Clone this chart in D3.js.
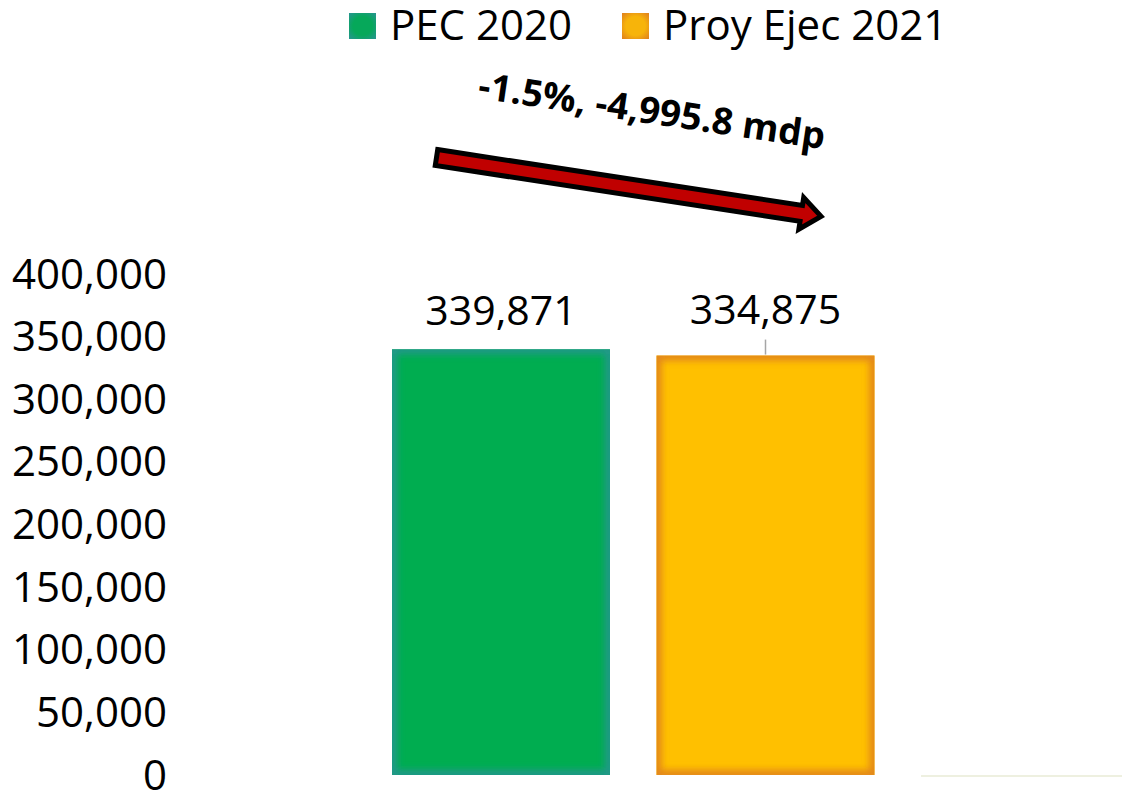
<!DOCTYPE html>
<html>
<head>
<meta charset="utf-8">
<script src="https://cdn.jsdelivr.net/npm/d3@7"></script>
<style>
  body { margin: 0; background: #fff; }
  svg { display: block; font-family: "Open Sans", "Liberation Sans", sans-serif; }
</style>
</head>
<body>
<div id="chart"></div>
<script>
// data
const categories = ["PEC 2020", "Proy Ejec 2021"];
const values = [339871, 334875];
const yTicks = [0, 50000, 100000, 150000, 200000, 250000, 300000, 350000, 400000];
const changeLabel = "-1.5%, -4,995.8 mdp";

const width = 1122;
const height = 791;

const svg = d3
  .select("#chart")
  .append("svg")
  .attr("width", width)
  .attr("height", height);

const defs = svg.append("defs");

// fills: main colour + edge colour for the inner glow
const fills = [
  { main: "#00AD50", edge: "#23978A", center: "#06A85A" },
  { main: "#FFC000", edge: "#E2861C", center: "#F7B40A" },
];

// legend square gradients
fills.forEach((f, i) => {
  const g = defs
    .append("radialGradient")
    .attr("id", "leg" + i)
    .attr("cx", "50%")
    .attr("cy", "50%")
    .attr("r", "65%");
  g.append("stop").attr("offset", "0%").attr("stop-color", f.center);
  g.append("stop").attr("offset", "55%").attr("stop-color", f.center);
  g.append("stop").attr("offset", "100%").attr("stop-color", f.edge);
});

defs
  .append("filter")
  .attr("id", "soft")
  .attr("x", "-10%")
  .attr("y", "-10%")
  .attr("width", "120%")
  .attr("height", "120%")
  .append("feGaussianBlur")
  .attr("stdDeviation", 3.5);

// scales
const slots = [...categories, ""]; // third slot is empty
const x = d3
  .scaleBand()
  .domain(slots)
  .range([392, 1139])
  .paddingInner(0.176)
  .paddingOuter(0);

const y = d3.scaleLinear().domain([0, 400000]).range([775, 274]);

// y axis (labels only)
const yAxis = svg
  .append("g")
  .attr("transform", "translate(167,0)")
  .call(
    d3
      .axisLeft(y)
      .tickValues(yTicks)
      .tickSize(0)
      .tickPadding(0)
      .tickFormat(d3.format(","))
  );
yAxis.select(".domain").remove();
yAxis
  .selectAll("text")
  .attr("font-family", "Open Sans")
  .attr("font-size", 42)
  .attr("fill", "#000")
  .attr("dy", null)
  .attr("y", 14);

// faint axis segment under the empty slot
svg
  .append("line")
  .attr("x1", x(""))
  .attr("x2", x("") + x.bandwidth())
  .attr("y1", y(0) + 1)
  .attr("y2", y(0) + 1)
  .attr("stroke", "#EEF0E0")
  .attr("stroke-width", 2);

// bars
const bars = svg
  .append("g")
  .selectAll("g")
  .data(values)
  .join("g");

bars.each(function (d, i) {
  const g = d3.select(this);
  const bx = x(categories[i]);
  const by = y(d);
  const bw = x.bandwidth();
  const bh = y(0) - y(d);

  defs
    .append("clipPath")
    .attr("id", "clip" + i)
    .append("rect")
    .attr("x", bx)
    .attr("y", by)
    .attr("width", bw)
    .attr("height", bh);

  g.append("rect")
    .attr("x", bx)
    .attr("y", by)
    .attr("width", bw)
    .attr("height", bh)
    .attr("fill", fills[i].main);

  // soft inner glow along the edges
  g.append("g")
    .attr("clip-path", `url(#clip${i})`)
    .append("rect")
    .attr("x", bx)
    .attr("y", by)
    .attr("width", bw)
    .attr("height", bh)
    .attr("fill", "none")
    .attr("stroke", fills[i].edge)
    .attr("stroke-width", 10)
    .attr("filter", "url(#soft)");
});

// value labels
const labelLift = [24, 32];
svg
  .append("g")
  .selectAll("text")
  .data(values)
  .join("text")
  .attr("x", (d, i) => x(categories[i]) + x.bandwidth() / 2)
  .attr("y", (d, i) => y(d) - labelLift[i])
  .attr("text-anchor", "middle")
  .attr("font-size", 41)
  .attr("fill", "#000")
  .text((d) => d3.format(",")(d));

// leader line for the moved label
svg
  .append("line")
  .attr("x1", x(categories[1]) + x.bandwidth() / 2)
  .attr("x2", x(categories[1]) + x.bandwidth() / 2)
  .attr("y1", y(values[1]) - 16)
  .attr("y2", y(values[1]) - 1)
  .attr("stroke", "#A6A6A6")
  .attr("stroke-width", 1.5);

// legend
const legendX = [349, 622];
const legend = svg
  .append("g")
  .selectAll("g")
  .data(categories)
  .join("g")
  .attr("transform", (d, i) => `translate(${legendX[i]},13)`);

legend
  .append("rect")
  .attr("width", 27)
  .attr("height", 26)
  .attr("fill", (d, i) => `url(#leg${i})`);

legend
  .append("text")
  .attr("x", 41)
  .attr("y", 27)
  .attr("font-size", 42)
  .attr("fill", "#000")
  .text((d) => d);

// change annotation: arrow + rotated text
const arrowStart = [436.5, 157.5];
const arrowEnd = [825, 217];
const dx = arrowEnd[0] - arrowStart[0];
const dy = arrowEnd[1] - arrowStart[1];
const len = Math.sqrt(dx * dx + dy * dy);
const angle = (Math.atan2(dy, dx) * 180) / Math.PI;

const arrowPath = d3.path();
arrowPath.moveTo(0, -8);
arrowPath.lineTo(len - 24, -8);
arrowPath.lineTo(len - 24, -16);
arrowPath.lineTo(len - 4, 0);
arrowPath.lineTo(len - 24, 16);
arrowPath.lineTo(len - 24, 8);
arrowPath.lineTo(0, 8);
arrowPath.closePath();

svg
  .append("path")
  .attr("d", arrowPath.toString())
  .attr("transform", `translate(${arrowStart[0]},${arrowStart[1]}) rotate(${angle})`)
  .attr("fill", "#C00000")
  .attr("stroke", "#000")
  .attr("stroke-width", 5)
  .attr("stroke-linejoin", "miter");

svg
  .append("text")
  .attr("transform", `translate(477,98) rotate(${angle - 0.3})`)
  .attr("font-size", 37)
  .attr("font-weight", "bold")
  .attr("fill", "#000")
  .text(changeLabel);
</script>
</body>
</html>
